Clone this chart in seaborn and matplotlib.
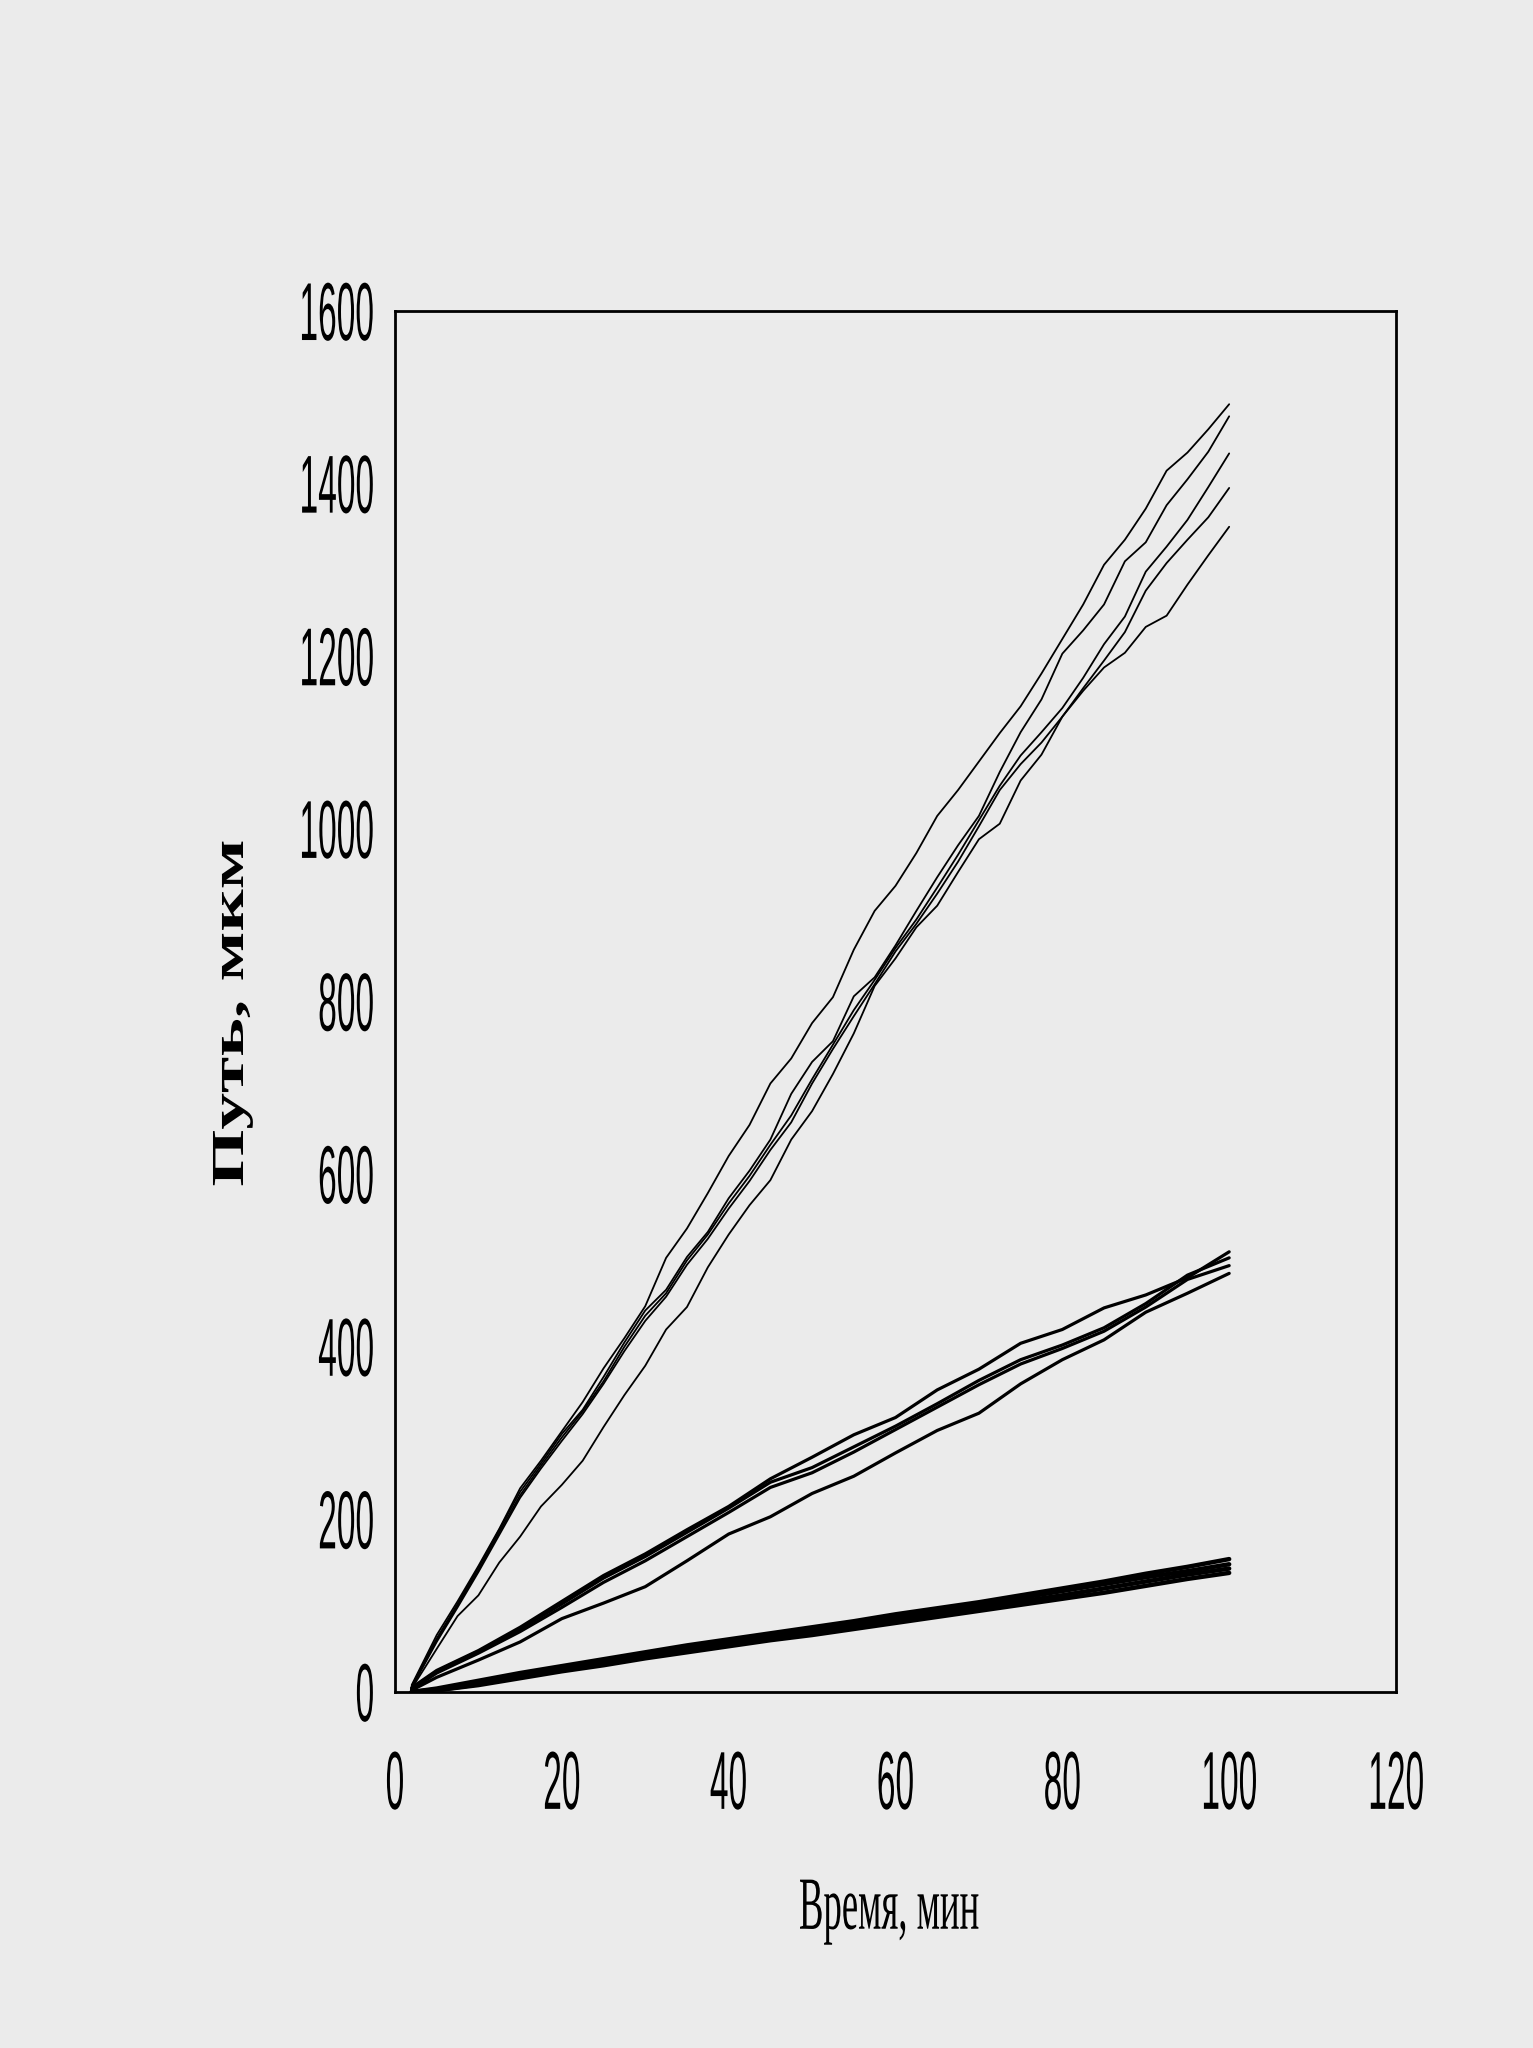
import matplotlib
matplotlib.use("Agg")
import matplotlib.pyplot as plt
import seaborn as sns
from matplotlib.patheffects import AbstractPathEffect
from matplotlib.transforms import Affine2D

# ---------------- data ----------------
# fast group (upper fan), read every 2.5 min
time_fast = [2, 5, 7.5, 10, 12.5, 15, 17.5, 20, 22.5, 25, 27.5, 30, 32.5, 35, 37.5, 40,
             42.5, 45, 47.5, 50, 52.5, 55, 57.5, 60, 62.5, 65, 67.5, 70, 72.5, 75,
             77.5, 80, 82.5, 85, 87.5, 90, 92.5, 95, 97.5, 100]
fast_a = [8, 66, 105, 146, 189, 236, 268, 302, 336, 375, 410, 447, 503, 537, 578, 621,
          657, 705, 734, 775, 805, 860, 905, 934, 972, 1015, 1045, 1078, 1111, 1142,
          1180, 1220, 1260, 1306, 1335, 1371, 1415, 1436, 1463, 1492]
fast_b = [7, 62, 102, 144, 188, 232, 265, 299, 327, 365, 405, 442, 466, 504, 533, 572,
          604, 640, 693, 730, 754, 806, 828, 865, 905, 944, 981, 1015, 1066, 1112,
          1150, 1203, 1230, 1260, 1310, 1332, 1375, 1405, 1437, 1478]
fast_c = [6, 60, 100, 141, 185, 228, 262, 295, 325, 360, 400, 436, 462, 500, 530, 566,
          598, 634, 668, 710, 750, 790, 825, 862, 895, 932, 970, 1010, 1050, 1085,
          1112, 1140, 1175, 1214, 1246, 1298, 1327, 1358, 1396, 1435]
fast_d = [5, 58, 98, 139, 182, 225, 259, 291, 322, 357, 395, 430, 458, 495, 525, 560,
          592, 628, 660, 705, 745, 783, 820, 858, 890, 925, 962, 1003, 1045, 1075,
          1100, 1130, 1163, 1195, 1228, 1276, 1308, 1335, 1361, 1395]
fast_e = [4, 50, 88, 112, 150, 180, 215, 240, 268, 307, 344, 378, 420, 446, 492, 530,
          564, 593, 640, 673, 716, 763, 818, 850, 886, 911, 950, 988, 1006, 1056,
          1086, 1130, 1160, 1187, 1204, 1234, 1247, 1283, 1317, 1350]

# medium and slow groups, read every 5 min
time_min = [2, 5, 10, 15, 20, 25, 30, 35, 40, 45, 50, 55, 60, 65, 70, 75, 80, 85, 90, 95, 100]
mid_a = [5, 25, 48, 75, 105, 135, 160, 188, 215, 247, 272, 298, 318, 350, 374, 404, 420, 445, 460, 480, 510]
mid_b = [4, 24, 47, 73, 102, 132, 157, 185, 213, 243, 260, 284, 308, 334, 361, 385, 402, 422, 450, 483, 503]
mid_c = [3, 22, 45, 70, 98, 127, 152, 180, 208, 237, 254, 278, 304, 330, 356, 380, 398, 418, 446, 478, 494]
mid_d = [2, 17, 37, 58, 85, 103, 122, 152, 183, 203, 230, 250, 277, 303, 323, 357, 385, 408, 440, 462, 485]

slow_a = [0, 4, 13, 22, 30, 38, 46, 54, 61, 68, 75, 82, 90, 97, 104, 112, 120, 128, 137, 145, 154]
slow_b = [0, 3, 11, 20, 28, 36, 44, 52, 59, 66, 72, 79, 87, 94, 101, 109, 117, 125, 133, 140, 148]
slow_c = [0, 2, 9, 18, 26, 34, 42, 49, 56, 63, 69, 76, 84, 91, 98, 105, 112, 120, 128, 136, 143]
slow_d = [0, 2, 8, 16, 24, 31, 39, 46, 53, 60, 66, 73, 80, 87, 94, 101, 108, 115, 123, 131, 138]

x_ticks = [0, 20, 40, 60, 80, 100, 120]
y_ticks = [0, 200, 400, 600, 800, 1000, 1200, 1400, 1600]
x_label = "Время, мин"
y_label = "Путь, мкм"

BG = "#EBEBEB"


class Stretch(AbstractPathEffect):
    """Scale a text path in display space (keeps the text as a real text object)."""

    def __init__(self, sx=1.0, sy=1.0, anchor_x="center"):
        super().__init__()
        self.sx, self.sy, self.anchor_x = sx, sy, anchor_x

    def draw_path(self, renderer, gc, tpath, affine, rgbFace=None):
        ext = tpath.get_extents(affine)
        if self.anchor_x == "right":
            cx = ext.x1
        elif self.anchor_x == "left":
            cx = ext.x0
        else:
            cx = 0.5 * (ext.x0 + ext.x1)
        cy = 0.5 * (ext.y0 + ext.y1)
        t = affine + Affine2D().translate(-cx, -cy).scale(self.sx, self.sy).translate(cx, cy)
        renderer.draw_path(gc, tpath, t, rgbFace)


sns.set_theme(style="white", rc={"axes.facecolor": BG, "figure.facecolor": BG})
plt.rcParams["font.family"] = ["Liberation Sans", "DejaVu Sans"]

fig = plt.figure(figsize=(15.33, 20.48), dpi=100)
ax = fig.add_axes([395 / 1533, 1 - 1692 / 2048, (1396 - 395) / 1533, (1692 - 311) / 2048])
ax.set_facecolor(BG)

for s in (fast_a, fast_b, fast_c, fast_d, fast_e):
    sns.lineplot(x=time_fast, y=s, ax=ax, color="black", linewidth=1.3, legend=False)
for s in (mid_a, mid_b, mid_c, mid_d):
    sns.lineplot(x=time_min, y=s, ax=ax, color="black", linewidth=2.3, legend=False)
for s in (slow_a, slow_b, slow_c, slow_d):
    sns.lineplot(x=time_min, y=s, ax=ax, color="black", linewidth=3.2, legend=False)

ax.set_xlim(0, 120)
ax.set_ylim(0, 1600)
ax.set_xticks(x_ticks)
ax.set_yticks(y_ticks)
ax.set_xticklabels([str(v) for v in x_ticks])
ax.set_yticklabels([str(v) for v in y_ticks])
ax.tick_params(axis="both", length=0, colors="black", labelsize=34)
ax.tick_params(axis="y", pad=14.5)
ax.tick_params(axis="x", pad=51)

for sp in ax.spines.values():
    sp.set_visible(True)
    sp.set_color("black")
    sp.set_linewidth(2.0)

for lbl in ax.get_yticklabels():
    lbl.set_fontfamily(["Liberation Sans", "DejaVu Sans"])
    lbl.set_path_effects([Stretch(0.71, 1.74, anchor_x="right")])
for lbl in ax.get_xticklabels():
    lbl.set_fontfamily(["Liberation Sans", "DejaVu Sans"])
    lbl.set_path_effects([Stretch(0.71, 1.74)])

ax.set_xlabel(x_label, fontsize=54, family=["Liberation Serif", "DejaVu Serif"], color="black")
ax.xaxis.label.set_va("center")
ax.xaxis.set_label_coords((889 - 395) / 1001, (1692 - 1911) / 1381)
ax.xaxis.label.set_path_effects([Stretch(0.49, 1.0)])

ax.set_ylabel(y_label, fontsize=33, fontweight="bold", family=["Liberation Serif", "DejaVu Serif"], color="black")
ax.yaxis.label.set_va("center")
ax.yaxis.label.set_ha("center")
ax.yaxis.set_label_coords((232 - 395) / 1001, (1692 - 1013) / 1381)
ax.yaxis.label.set_path_effects([Stretch(1.0, 1.6)])

ax.grid(False)
fig.savefig("out.png", dpi=100, facecolor=BG)
